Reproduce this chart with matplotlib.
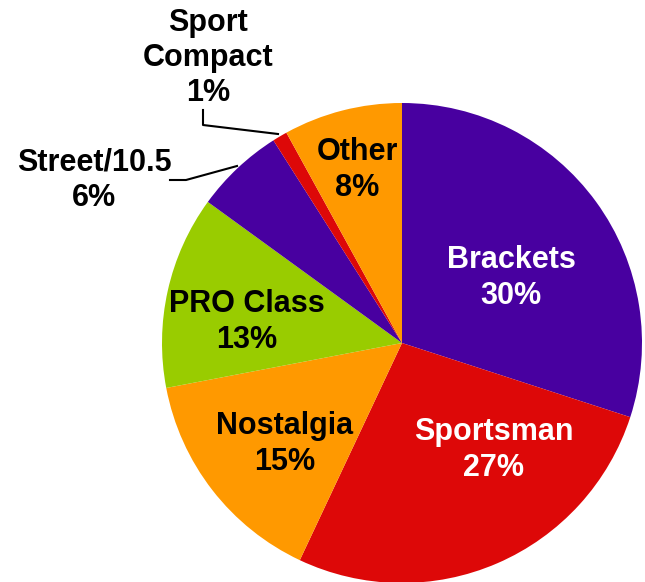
import matplotlib
matplotlib.use('Agg')
import matplotlib.pyplot as plt

# slice data, clockwise from 12 o'clock
categories = ['Brackets', 'Sportsman', 'Nostalgia', 'PRO Class', 'Street/10.5', 'Sport\nCompact', 'Other']
shares = [30, 27, 15, 13, 6, 1, 8]
colors = ['#4800A0', '#DD0808', '#FF9900', '#99CC00', '#4800A0', '#DD0808', '#FF9900']
text_colors = ['white', 'white', 'black', 'black', 'black', 'black', 'black']

W, H = 645, 582
# label centres in pixel coords (from top-left)
label_pos = [(511, 278), (494, 450), (285, 444), (247, 322), (94, 180), (208, 58), (357, 170)]

plt.rcParams['font.family'] = ['Liberation Sans', 'DejaVu Sans']

fig = plt.figure(figsize=(W / 100, H / 100), dpi=100)
ax = fig.add_axes([0, 0, 1, 1])

ax.pie(shares, colors=colors, startangle=90, counterclock=False,
       center=(402, H - 343), radius=240, frame=True,
       wedgeprops=dict(linewidth=0))
ax.set_xlim(0, W)
ax.set_ylim(0, H)
ax.set_aspect('equal')
ax.axis('off')

for cat, val, tc, (x, y) in zip(categories, shares, text_colors, label_pos):
    ax.text(x, H - y, f'{cat}\n{val}%', ha='center', va='center', color=tc,
            fontsize=22, fontweight='bold', linespacing=1.22)

# leader lines
ax.plot([203, 203, 278], [H - 110, H - 125, H - 134], color='black', lw=1.5)
ax.plot([170, 186, 237], [H - 180, H - 180, H - 166], color='black', lw=1.5)

fig.savefig('out.png', dpi=100)
